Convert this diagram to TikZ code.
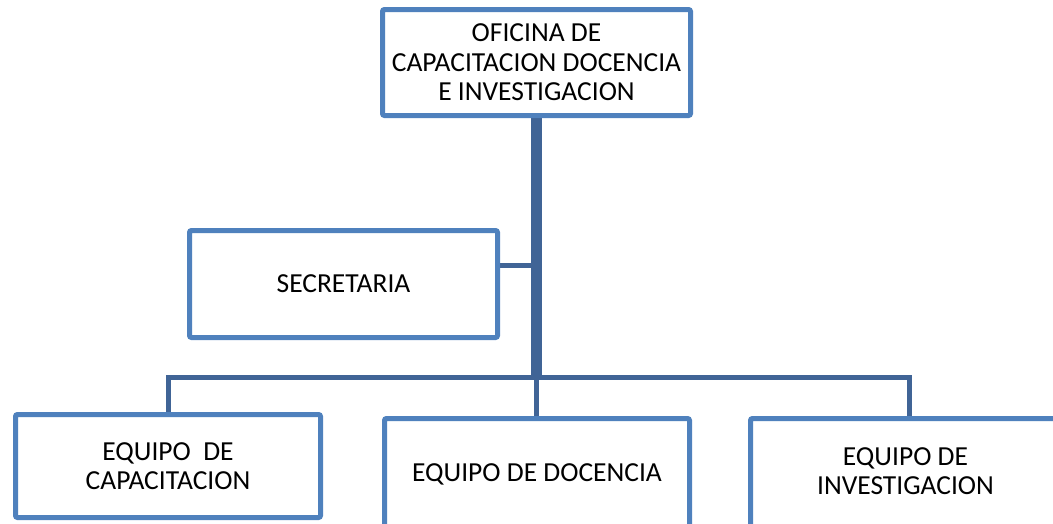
\documentclass[tikz,border=0pt]{standalone}
\usepackage{fontspec}
\setmainfont{Carlito}
\usetikzlibrary{backgrounds}
\definecolor{boxblue}{HTML}{4F81BD}
\definecolor{linkblue}{HTML}{406496}
\begin{document}
\begin{tikzpicture}[x=1pt,y=-1pt,
  orgbox/.style={draw=boxblue,line width=5pt,rounded corners=2pt,fill=white,
    inner sep=0pt,align=center,font=\fontsize{27.5}{29.5}\selectfont},
  link/.style={draw=linkblue,line width=5pt},
  trunk/.style={draw=linkblue,line width=11pt}]
\useasboundingbox (0,0) rectangle (1053,523);
\clip (0,0) rectangle (1053,523);
\coordinate (jsec) at (536,265);
\coordinate (jbr) at (536,377);
\coordinate (jl) at (168,377);
\coordinate (jr) at (909,377);
\node[orgbox,minimum width=308pt,minimum height=106pt] (top) at (536.5,62.5) {OFICINA DE\\CAPACITACION DOCENCIA\\E INVESTIGACION};
\node[orgbox,minimum width=308pt,minimum height=107pt] (sec) at (343.5,284) {SECRETARIA};
\node[orgbox,minimum width=305pt,minimum height=103pt] (cap) at (168,466) {EQUIPO\ \ DE\\CAPACITACION};
\node[orgbox,minimum width=305pt,minimum height=111pt] (doc) at (537,474) {EQUIPO DE DOCENCIA};
\node[orgbox,minimum width=330pt,minimum height=111pt] (inv) at (915.5,474) {};
\node[font=\fontsize{27.5}{29.5}\selectfont,align=center,inner sep=0pt] (invtext) at (905.5,471) {EQUIPO DE\\INVESTIGACION};
\begin{scope}[on background layer]
\draw[trunk] (top.south -| jbr) -- (jbr);
\draw[link] (sec.east |- jsec) -- (jsec);
\draw[link] (jbr) -- (doc.north -| jbr);
\draw[link] (cap.north -| jl) -- (jl) -- (jr) -- (inv.north -| jr);
\end{scope}
\end{tikzpicture}
\end{document}
